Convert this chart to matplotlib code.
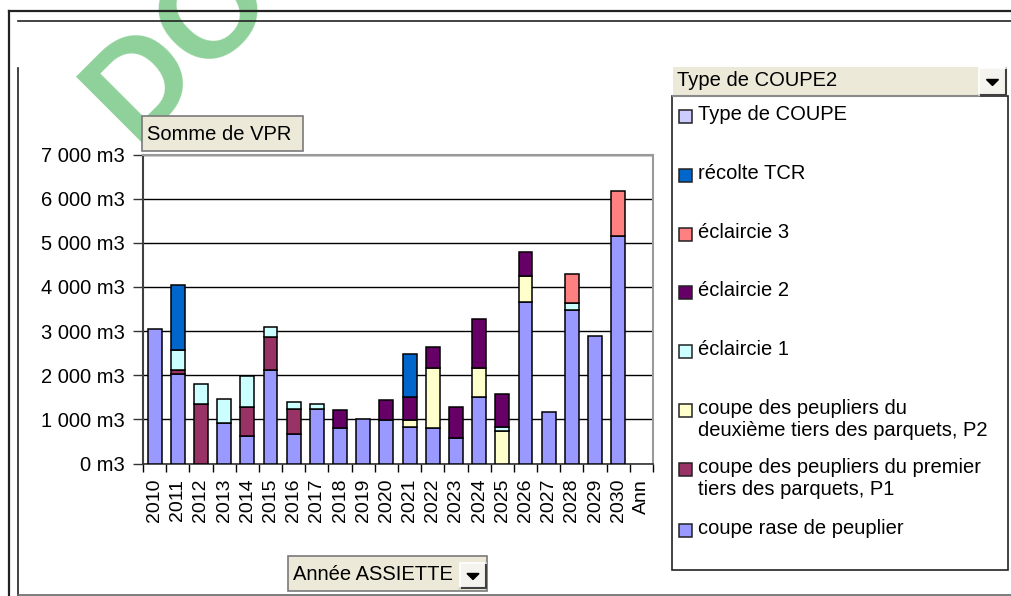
import numpy as np
import matplotlib.pyplot as plt
from matplotlib.patches import Rectangle, Polygon
from matplotlib.ticker import FuncFormatter, FixedLocator

plt.rcParams['font.family'] = ['Liberation Sans', 'DejaVu Sans']

# values (m3)
annees = ['2010', '2011', '2012', '2013', '2014', '2015', '2016', '2017', '2018', '2019',
          '2020', '2021', '2022', '2023', '2024', '2025', '2026', '2027', '2028', '2029',
          '2030', 'Ann']
rase = [3045, 2020, 0, 925, 620, 2120, 660, 1240, 800, 1015, 985, 830, 800, 575, 1505, 0,
        3665, 1165, 3485, 2895, 5145, 0]
p1 = [0, 100, 1350, 0, 665, 745, 580, 0, 0, 0, 0, 0, 0, 0, 0, 0, 0, 0, 0, 0, 0, 0]
p2 = [0, 0, 0, 0, 0, 0, 0, 0, 0, 0, 0, 150, 1365, 0, 660, 730, 590, 0, 0, 0, 0, 0]
ecl1 = [0, 455, 445, 545, 700, 220, 150, 115, 0, 0, 0, 0, 0, 0, 0, 105, 0, 0, 145, 0, 0, 0]
ecl2 = [0, 0, 0, 0, 0, 0, 0, 0, 410, 0, 450, 525, 470, 710, 1100, 735, 545, 0, 0, 0, 0, 0]
ecl3 = [0, 0, 0, 0, 0, 0, 0, 0, 0, 0, 0, 0, 0, 0, 0, 0, 0, 0, 670, 0, 1020, 0]
tcr = [0, 1460, 0, 0, 0, 0, 0, 0, 0, 0, 0, 975, 0, 0, 0, 0, 0, 0, 0, 0, 0, 0]
type_coupe = [0] * 22

series = [
    ('coupe rase de peuplier', rase, '#9999ff'),
    ('coupe des peupliers du premier\ntiers des parquets, P1', p1, '#993366'),
    ('coupe des peupliers du\ndeuxième tiers des parquets, P2', p2, '#ffffcc'),
    ('éclaircie 1', ecl1, '#ccffff'),
    ('éclaircie 2', ecl2, '#660066'),
    ('éclaircie 3', ecl3, '#ff8080'),
    ('récolte TCR', tcr, '#0066cc'),
    ('Type de COUPE', type_coupe, '#ccccff'),
]

W, H = 1011, 596
fig = plt.figure(figsize=(W / 100, H / 100), dpi=100)
fs = 14.5

# chart area
ax = fig.add_axes([143 / W, 1 - 463.5 / H, 510 / W, 309 / H])
x = np.arange(len(annees))
bottom = np.zeros(len(annees))
for name, vals, col in series:
    v = np.array(vals, dtype=float)
    m = v > 0
    if m.any():
        ax.bar(x[m], v[m], 0.6, bottom=bottom[m], color=col, edgecolor='black',
               linewidth=1.1, zorder=3)
    bottom += v

ax.set_xlim(-0.5, len(annees) - 0.5)
ax.set_ylim(0, 7000)
ax.set_yticks(np.arange(0, 7001, 1000))
ax.yaxis.set_major_formatter(FuncFormatter(lambda v, p: f"{v:,.0f}".replace(',', ' ') + ' m3'))
ax.grid(axis='y', color='black', linewidth=1, zorder=1)
ax.set_xticks(x)
ax.set_xticklabels(annees, rotation=90, fontsize=fs - 0.5)
ax.xaxis.set_minor_locator(FixedLocator(np.arange(-0.5, len(annees), 1)))
ax.tick_params(axis='x', which='major', length=0, pad=11)
ax.tick_params(axis='x', which='minor', length=6, width=1, color='black')
ax.tick_params(axis='y', length=7, width=1, pad=6, labelsize=fs, color='#333333')
for s in ['top', 'right']:
    ax.spines[s].set_color('#9a9a9a')
    ax.spines[s].set_linewidth(1.5)
ax.spines['left'].set_color('#404040')
ax.spines['left'].set_linewidth(1.5)
ax.spines['bottom'].set_color('#333333')
ax.spines['bottom'].set_linewidth(1.2)

# overlay in pixel coordinates for frame, buttons, legend
ov = fig.add_axes([0, 0, 1, 1], zorder=5)
ov.set_xlim(0, W)
ov.set_ylim(H, 0)
ov.axis('off')
ov.patch.set_alpha(0)

# watermark
ov.text(133, 142, 'DOCUMENT', rotation=45, rotation_mode='anchor', ha='left', va='baseline',
        fontsize=98, color='#8fd19a', fontweight='bold', zorder=0, clip_on=True)

# frame lines
ov.plot([9, W], [11, 11], color='#222222', lw=1.6, zorder=2)
ov.plot([9, 9], [11, H], color='#222222', lw=1.6, zorder=2)
ov.plot([18, W], [20.5, 20.5], color='#222222', lw=1.2, zorder=2)
ov.plot([18, 18], [68, 595], color='#222222', lw=1.2, zorder=2)
ov.plot([18, W], [595, 595], color='#666666', lw=1.2, zorder=2)


def field_box(x0, y0, x1, y1, label):
    ov.add_patch(Rectangle((x0, y0), x1 - x0, y1 - y0, facecolor='#ece9d8',
                           edgecolor='#7a7a7a', lw=1.2, zorder=3))
    ov.text(x0 + 5, (y0 + y1) / 2 + 1, label, ha='left', va='center', fontsize=fs, zorder=4)


def drop_button(x0, y0, x1, y1):
    ov.add_patch(Rectangle((x0, y0), x1 - x0, y1 - y0, facecolor='#f4f3ee',
                           edgecolor='none', zorder=5))
    ov.plot([x0, x1, x1], [y1, y1, y0], color='#404040', lw=1.5, zorder=6)
    ov.plot([x0, x0, x1], [y1, y0, y0], color='white', lw=1.2, zorder=6)
    cx, cy = (x0 + x1) / 2, (y0 + y1) / 2 + 1
    ov.add_patch(Polygon([[cx - 6, cy - 3], [cx + 6, cy - 3], [cx, cy + 3]],
                         closed=True, color='black', zorder=7))


field_box(142, 116, 303, 151, 'Somme de VPR')
field_box(288, 556, 487, 591, 'Année ASSIETTE')
drop_button(460, 563, 486, 588)

# legend box
ov.add_patch(Rectangle((672, 96), 336, 474, facecolor='white', edgecolor='#222222',
                       lw=1.2, zorder=3))
ov.add_patch(Rectangle((673, 67), 306, 29, facecolor='#ece9d8', edgecolor='none', zorder=3))
ov.plot([673, 979], [96, 96], color='#8a8a8a', lw=1.5, zorder=4)
ov.text(677, 80, 'Type de COUPE2', ha='left', va='center', fontsize=fs, zorder=4)
drop_button(979, 68, 1006, 95)

leg_y = [116.5, 175, 234, 292, 351, 410, 469, 530]
for (name, vals, col), yy in zip(series[::-1], leg_y):
    ov.add_patch(Rectangle((679, yy - 6.5), 13, 13, facecolor=col, edgecolor='#222222',
                           lw=1.1, zorder=4))
    ov.text(698, yy - 11, name, ha='left', va='top', fontsize=fs, linespacing=1.2, zorder=4)

fig.savefig('out.png', dpi=100)
